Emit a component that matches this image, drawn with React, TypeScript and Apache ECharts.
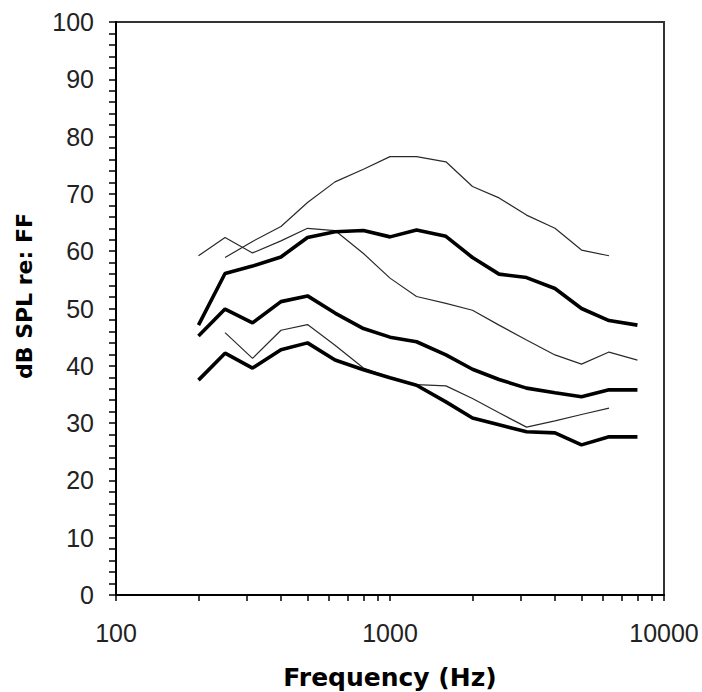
import React, { useEffect, useRef } from "react";
import * as echarts from "echarts";

const freqs = [200, 250, 315, 400, 500, 630, 800, 1000, 1250, 1600, 2000, 2500, 3150, 4000, 5000, 6300, 8000];

const thick1 = [47.1, 56.1, 57.4, 59.0, 62.4, 63.4, 63.6, 62.5, 63.7, 62.6, 58.9, 56.0, 55.4, 53.5, 50.0, 47.9, 47.1];
const thick2 = [45.2, 49.9, 47.5, 51.2, 52.2, 49.2, 46.5, 45.0, 44.2, 41.9, 39.4, 37.6, 36.1, 35.3, 34.6, 35.8, 35.8];
const thick3 = [37.5, 42.2, 39.6, 42.8, 44.0, 41.0, 39.3, 37.9, 36.6, 33.7, 30.9, 29.7, 28.5, 28.3, 26.2, 27.6, 27.6];

const thin1 = [null, 58.9, 61.7, 64.3, 68.5, 72.1, 74.3, 76.5, 76.5, 75.6, 71.3, 69.3, 66.3, 64.0, 60.2, 59.2, null];
const thin2 = [59.2, 62.4, 59.7, 61.8, 64.0, 63.6, 59.6, 55.3, 52.1, 50.9, 49.7, 47.1, 44.5, 41.9, 40.3, 42.4, 41.0];
const thin3 = [null, 45.8, 41.3, 46.2, 47.2, 43.6, 39.6, 38.0, 36.7, 36.5, 34.3, 31.8, 29.3, 30.4, 31.5, 32.6, null];

const xTickValues = [100, 200, 300, 400, 500, 600, 700, 800, 900, 1000, 2000, 3000, 4000, 5000, 6000, 7000, 8000, 9000, 10000];
const xLabelValues = [100, 1000, 10000];

const xTitle = "Frequency (Hz)";
const yTitle = "dB SPL re: FF";

function pairs(vals: (number | null)[]) {
  return freqs.map((f, i) => [f, vals[i] === null ? null : vals[i]]).filter((p) => p[1] !== null);
}

export default function App() {
  const ref = useRef<HTMLDivElement>(null);
  useEffect(() => {
    if (!ref.current) return;
    const chart = echarts.init(ref.current, null, { renderer: "svg" });
    const thick = { color: "#000", width: 3.6 };
    const thin = { color: "#2a2a2a", width: 1.2 };
    const mk = (name: string, vals: (number | null)[], ls: any) => ({
      name,
      type: "line",
      data: pairs(vals),
      showSymbol: false,
      symbol: "none",
      lineStyle: ls,
      z: ls.width > 2 ? 3 : 2,
    });
    chart.setOption({
      animation: false,
      backgroundColor: "#fff",
      grid: {
        left: 116,
        top: 22,
        right: 38,
        bottom: 97,
        show: true,
        borderColor: "#333",
        borderWidth: 2,
        containLabel: false,
        outerBoundsMode: "none",
      },
      xAxis: {
        type: "log",
        logBase: 10,
        min: 100,
        max: 10000,
        name: xTitle,
        nameLocation: "middle",
        nameGap: 70,
        nameMoveOverlap: false,
        nameTextStyle: { fontFamily: "DejaVu Sans", fontWeight: "bold", fontSize: 25, color: "#000" },
        axisLine: { show: true, lineStyle: { color: "#000", width: 2 } },
        axisTick: { show: true, inside: false, length: 6, customValues: xTickValues, lineStyle: { color: "#000", width: 1.5 } },
        axisLabel: {
          customValues: xLabelValues,
          margin: 25,
          fontFamily: "Liberation Sans",
          fontSize: 25,
          color: "#222",
          formatter: (v: number) => String(Math.round(v)),
        },
        splitLine: { show: false },
        minorTick: { show: false },
      },
      yAxis: {
        type: "value",
        min: 0,
        max: 100,
        interval: 10,
        axisLine: { show: true, lineStyle: { color: "#000", width: 2 } },
        axisTick: { show: true, inside: false, length: 7, lineStyle: { color: "#000", width: 1.5 } },
        minorTick: { show: true, splitNumber: 5, length: 7, lineStyle: { color: "#000", width: 1.5 } },
        axisLabel: { margin: 22, fontFamily: "Liberation Sans", fontSize: 25, color: "#222" },
        splitLine: { show: false },
      },
      graphic: [
        {
          type: "text",
          x: 24,
          y: 296,
          rotation: Math.PI / 2,
          style: {
            text: yTitle,
            fontFamily: "DejaVu Sans",
            fontWeight: "bold",
            fontSize: 22,
            fill: "#000",
            align: "center",
            verticalAlign: "middle",
          },
        },
      ],
      series: [
        mk("Thin 1", thin1, thin),
        mk("Thin 2", thin2, thin),
        mk("Thin 3", thin3, thin),
        mk("Thick 1", thick1, thick),
        mk("Thick 2", thick2, thick),
        mk("Thick 3", thick3, thick),
      ],
    });
    return () => chart.dispose();
  }, []);
  return <div ref={ref} style={{ position: "absolute", left: 0, top: 0, width: 702, height: 692 }} />;
}
